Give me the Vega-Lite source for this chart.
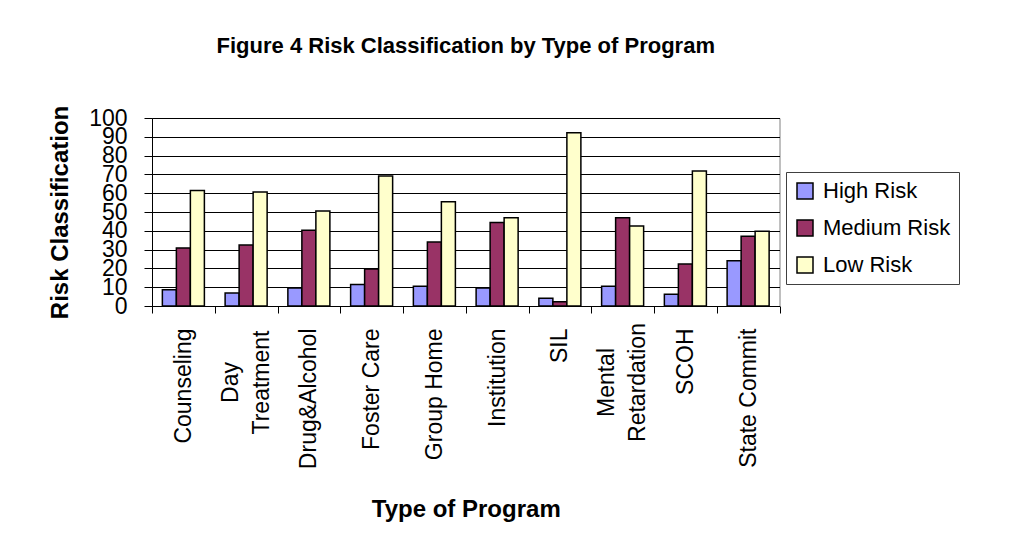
{
  "$schema": "https://vega.github.io/schema/vega-lite/v6.json",
  "width": 627.5,
  "height": 188,
  "autosize": {"type": "none"},
  "padding": {"left": 152, "top": 118, "right": 236, "bottom": 254},
  "background": "white",
  "title": {
    "text": "Figure 4 Risk Classification by Type of Program",
    "font": "Liberation Sans",
    "fontSize": 22,
    "fontWeight": "bold",
    "color": "black",
    "anchor": "middle",
    "offset": 47
  },
  "data": {
    "values": [
      {"program": "Counseling", "risk": "High Risk", "value": 8.7},
      {"program": "Counseling", "risk": "Medium Risk", "value": 30.9},
      {"program": "Counseling", "risk": "Low Risk", "value": 61.4},
      {"program": "Day Treatment", "risk": "High Risk", "value": 6.9},
      {"program": "Day Treatment", "risk": "Medium Risk", "value": 32.4},
      {"program": "Day Treatment", "risk": "Low Risk", "value": 60.6},
      {"program": "Drug&Alcohol", "risk": "High Risk", "value": 9.6},
      {"program": "Drug&Alcohol", "risk": "Medium Risk", "value": 40.3},
      {"program": "Drug&Alcohol", "risk": "Low Risk", "value": 50.5},
      {"program": "Foster Care", "risk": "High Risk", "value": 11.4},
      {"program": "Foster Care", "risk": "Medium Risk", "value": 19.7},
      {"program": "Foster Care", "risk": "Low Risk", "value": 69.1},
      {"program": "Group Home", "risk": "High Risk", "value": 10.5},
      {"program": "Group Home", "risk": "Medium Risk", "value": 34.0},
      {"program": "Group Home", "risk": "Low Risk", "value": 55.5},
      {"program": "Institution", "risk": "High Risk", "value": 9.6},
      {"program": "Institution", "risk": "Medium Risk", "value": 44.4},
      {"program": "Institution", "risk": "Low Risk", "value": 47.0},
      {"program": "SIL", "risk": "High Risk", "value": 4.1},
      {"program": "SIL", "risk": "Medium Risk", "value": 2.3},
      {"program": "SIL", "risk": "Low Risk", "value": 92.2},
      {"program": "Mental Retardation", "risk": "High Risk", "value": 10.5},
      {"program": "Mental Retardation", "risk": "Medium Risk", "value": 47.0},
      {"program": "Mental Retardation", "risk": "Low Risk", "value": 42.6},
      {"program": "SCOH", "risk": "High Risk", "value": 6.2},
      {"program": "SCOH", "risk": "Medium Risk", "value": 22.3},
      {"program": "SCOH", "risk": "Low Risk", "value": 71.8},
      {"program": "State Commit", "risk": "High Risk", "value": 24.1},
      {"program": "State Commit", "risk": "Medium Risk", "value": 37.1},
      {"program": "State Commit", "risk": "Low Risk", "value": 39.7}
    ]
  },
  "mark": {"type": "bar", "stroke": "black", "strokeWidth": 1.5},
  "encoding": {
    "x": {
      "field": "program",
      "type": "nominal",
      "sort": ["Counseling", "Day Treatment", "Drug&Alcohol", "Foster Care", "Group Home", "Institution", "SIL", "Mental Retardation", "SCOH", "State Commit"],
      "scale": {"paddingInner": 0, "paddingOuter": 0},
      "axis": {
        "title": "Type of Program",
        "titleFont": "Liberation Sans",
        "titleFontSize": 24,
        "titleFontWeight": "bold",
        "titleColor": "black",
        "titleY": 191,
        "titleBaseline": "top",
        "labelAngle": -90,
        "labelFont": "Liberation Sans",
        "labelFontSize": 23,
        "labelColor": "black",
        "labelBaseline": "middle",
        "labelAlign": {"condition": {"test": "datum.value == 'Day Treatment' || datum.value == 'Mental Retardation'", "value": "center"}, "value": "right"},
        "labelPadding": {"condition": {"test": "datum.value == 'Day Treatment' || datum.value == 'Mental Retardation'", "value": 69}, "value": 15},
        "labelOffset": {"condition": {"test": "datum.value == 'Day Treatment' || datum.value == 'Mental Retardation'", "value": -16}, "value": 0},
        "labelExpr": "datum.value == 'Day Treatment' ? ['Day', 'Treatment'] : datum.value == 'Mental Retardation' ? ['Mental', 'Retardation'] : datum.value",
        "labelLineHeight": 31,
        "labelOverlap": false,
        "tickSize": 7,
        "tickBand": "extent",
        "tickColor": "black",
        "domainColor": "black",
        "grid": false
      }
    },
    "xOffset": {
      "field": "risk",
      "sort": ["High Risk", "Medium Risk", "Low Risk"],
      "scale": {"paddingInner": 0, "paddingOuter": 0.74}
    },
    "y": {
      "field": "value",
      "type": "quantitative",
      "scale": {"domain": [0, 100], "nice": false},
      "axis": {
        "title": "Risk Classification",
        "titleFont": "Liberation Sans",
        "titleFontSize": 24,
        "titleFontWeight": "bold",
        "titleColor": "black",
        "titlePadding": 16,
        "values": [0, 10, 20, 30, 40, 50, 60, 70, 80, 90, 100],
        "labelFont": "Liberation Sans",
        "labelFontSize": 23,
        "labelColor": "black",
        "labelPadding": 17,
        "labelOverlap": false,
        "labelFlush": false,
        "tickSize": 8,
        "tickColor": "black",
        "domainColor": "black",
        "grid": true,
        "gridColor": "black",
        "gridOpacity": 1
      }
    },
    "color": {
      "field": "risk",
      "type": "nominal",
      "sort": ["High Risk", "Medium Risk", "Low Risk"],
      "scale": {"domain": ["High Risk", "Medium Risk", "Low Risk"], "range": ["#9999FF", "#993366", "#FFFFCC"]},
      "legend": {
        "title": null,
        "orient": "none",
        "legendX": 634,
        "legendY": 54,
        "symbolType": "square",
        "symbolSize": 256,
        "symbolStrokeColor": "black",
        "symbolStrokeWidth": 1.5,
        "symbolOpacity": 1,
        "labelFont": "Liberation Sans",
        "labelFontSize": 22,
        "labelColor": "black",
        "labelOffset": 7,
        "rowPadding": 15,
        "padding": 8,
        "strokeColor": "#404040",
        "fillColor": "white"
      }
    }
  },
  "config": {"view": {"stroke": "#808080"}}
}
